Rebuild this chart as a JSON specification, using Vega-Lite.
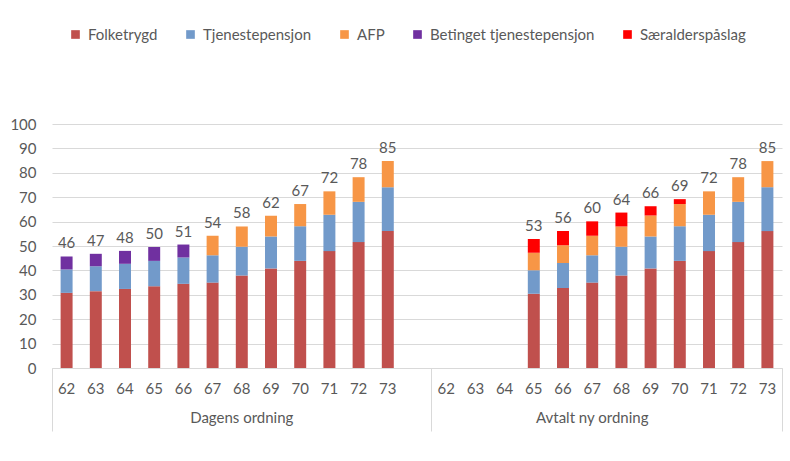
{
  "$schema": "https://vega.github.io/schema/vega-lite/v6.json",
  "width": 730,
  "height": 244,
  "autosize": "none",
  "padding": {"left": 52, "top": 124, "right": 8, "bottom": 93},
  "config": {"view": {"stroke": null}, "font": "Lato"},
  "data": {"values": [
    {"key": "1-62", "cat": "Folketrygd", "value": 30.8},
    {"key": "1-62", "cat": "Tjenestepensjon", "value": 9.6},
    {"key": "1-62", "cat": "Betinget tjenestepensjon", "value": 5.3},
    {"key": "1-63", "cat": "Folketrygd", "value": 31.5},
    {"key": "1-63", "cat": "Tjenestepensjon", "value": 10.2},
    {"key": "1-63", "cat": "Betinget tjenestepensjon", "value": 5.1},
    {"key": "1-64", "cat": "Folketrygd", "value": 32.4},
    {"key": "1-64", "cat": "Tjenestepensjon", "value": 10.3},
    {"key": "1-64", "cat": "Betinget tjenestepensjon", "value": 5.3},
    {"key": "1-65", "cat": "Folketrygd", "value": 33.5},
    {"key": "1-65", "cat": "Tjenestepensjon", "value": 10.4},
    {"key": "1-65", "cat": "Betinget tjenestepensjon", "value": 5.7},
    {"key": "1-66", "cat": "Folketrygd", "value": 34.5},
    {"key": "1-66", "cat": "Tjenestepensjon", "value": 10.8},
    {"key": "1-66", "cat": "Betinget tjenestepensjon", "value": 5.3},
    {"key": "1-67", "cat": "Folketrygd", "value": 35.0},
    {"key": "1-67", "cat": "Tjenestepensjon", "value": 11.2},
    {"key": "1-67", "cat": "AFP", "value": 8.0},
    {"key": "1-68", "cat": "Folketrygd", "value": 37.9},
    {"key": "1-68", "cat": "Tjenestepensjon", "value": 11.8},
    {"key": "1-68", "cat": "AFP", "value": 8.3},
    {"key": "1-69", "cat": "Folketrygd", "value": 40.8},
    {"key": "1-69", "cat": "Tjenestepensjon", "value": 13.1},
    {"key": "1-69", "cat": "AFP", "value": 8.5},
    {"key": "1-70", "cat": "Folketrygd", "value": 43.9},
    {"key": "1-70", "cat": "Tjenestepensjon", "value": 14.2},
    {"key": "1-70", "cat": "AFP", "value": 9.1},
    {"key": "1-71", "cat": "Folketrygd", "value": 47.9},
    {"key": "1-71", "cat": "Tjenestepensjon", "value": 14.9},
    {"key": "1-71", "cat": "AFP", "value": 9.6},
    {"key": "1-72", "cat": "Folketrygd", "value": 51.6},
    {"key": "1-72", "cat": "Tjenestepensjon", "value": 16.5},
    {"key": "1-72", "cat": "AFP", "value": 10.1},
    {"key": "1-73", "cat": "Folketrygd", "value": 56.1},
    {"key": "1-73", "cat": "Tjenestepensjon", "value": 18.0},
    {"key": "1-73", "cat": "AFP", "value": 10.7},
    {"key": "2-65", "cat": "Folketrygd", "value": 30.4},
    {"key": "2-65", "cat": "Tjenestepensjon", "value": 9.7},
    {"key": "2-65", "cat": "AFP", "value": 7.1},
    {"key": "2-65", "cat": "Særalderspåslag", "value": 5.7},
    {"key": "2-66", "cat": "Folketrygd", "value": 32.8},
    {"key": "2-66", "cat": "Tjenestepensjon", "value": 10.2},
    {"key": "2-66", "cat": "AFP", "value": 7.3},
    {"key": "2-66", "cat": "Særalderspåslag", "value": 5.8},
    {"key": "2-67", "cat": "Folketrygd", "value": 35.0},
    {"key": "2-67", "cat": "Tjenestepensjon", "value": 11.2},
    {"key": "2-67", "cat": "AFP", "value": 8.0},
    {"key": "2-67", "cat": "Særalderspåslag", "value": 5.9},
    {"key": "2-68", "cat": "Folketrygd", "value": 37.9},
    {"key": "2-68", "cat": "Tjenestepensjon", "value": 11.8},
    {"key": "2-68", "cat": "AFP", "value": 8.3},
    {"key": "2-68", "cat": "Særalderspåslag", "value": 5.7},
    {"key": "2-69", "cat": "Folketrygd", "value": 40.8},
    {"key": "2-69", "cat": "Tjenestepensjon", "value": 13.1},
    {"key": "2-69", "cat": "AFP", "value": 8.6},
    {"key": "2-69", "cat": "Særalderspåslag", "value": 3.8},
    {"key": "2-70", "cat": "Folketrygd", "value": 43.9},
    {"key": "2-70", "cat": "Tjenestepensjon", "value": 14.2},
    {"key": "2-70", "cat": "AFP", "value": 9.1},
    {"key": "2-70", "cat": "Særalderspåslag", "value": 2.0},
    {"key": "2-71", "cat": "Folketrygd", "value": 47.9},
    {"key": "2-71", "cat": "Tjenestepensjon", "value": 14.9},
    {"key": "2-71", "cat": "AFP", "value": 9.6},
    {"key": "2-72", "cat": "Folketrygd", "value": 51.6},
    {"key": "2-72", "cat": "Tjenestepensjon", "value": 16.5},
    {"key": "2-72", "cat": "AFP", "value": 10.1},
    {"key": "2-73", "cat": "Folketrygd", "value": 56.1},
    {"key": "2-73", "cat": "Tjenestepensjon", "value": 18.0},
    {"key": "2-73", "cat": "AFP", "value": 10.7}
  ]},
  "resolve": {"axis": {"x": "independent", "y": "independent"}},
  "layer": [
    {
      "transform": [
        {"calculate": "indexof(['Folketrygd', 'Tjenestepensjon', 'AFP', 'Betinget tjenestepensjon', 'Særalderspåslag'], datum.cat)", "as": "stackOrder"}
      ],
      "mark": {"type": "bar", "width": {"band": 0.41}},
      "encoding": {
        "x": {
          "field": "key", "type": "nominal",
          "scale": {"domain": ["1-62","1-63","1-64","1-65","1-66","1-67","1-68","1-69","1-70","1-71","1-72","1-73","1-","2-62","2-63","2-64","2-65","2-66","2-67","2-68","2-69","2-70","2-71","2-72","2-73"], "paddingInner": 0, "paddingOuter": 0},
          "axis": {"title": null, "orient": "bottom", "labelExpr": "slice(datum.label, 2)", "labelAngle": 0, "ticks": false, "domainColor": "#d9d9d9", "labelPadding": 13, "labelFontSize": 15, "labelColor": "#595959"}
        },
        "y": {
          "field": "value", "type": "quantitative", "stack": "zero",
          "scale": {"domain": [0, 100], "nice": false},
          "axis": {"title": null, "orient": "left", "values": [0,10,20,30,40,50,60,70,80,90,100], "labelOverlap": false, "domain": false, "ticks": false, "gridColor": "#d9d9d9", "labelPadding": 16, "labelFontSize": 15, "labelColor": "#595959"}
        },
        "order": {"field": "stackOrder", "type": "quantitative", "sort": "ascending"},
        "color": {
          "field": "cat", "type": "nominal",
          "sort": ["Folketrygd", "Tjenestepensjon", "AFP", "Betinget tjenestepensjon", "Særalderspåslag"],
          "scale": {
            "domain": ["Folketrygd", "Tjenestepensjon", "AFP", "Betinget tjenestepensjon", "Særalderspåslag"],
            "range": ["#C0504D", "#729ACA", "#F79646", "#7030A0", "#FF0000"]
          },
          "legend": {"title": null, "orient": "none", "direction": "horizontal", "gridAlign": "none", "legendX": 16, "legendY": -97, "symbolType": "square", "symbolSize": 75, "symbolStrokeWidth": 0, "labelFontSize": 15, "labelColor": "#595959", "columnPadding": 25, "labelOffset": 5, "labelLimit": 300}
        }
      }
    },
    {
      "mark": {"type": "text", "baseline": "bottom", "dy": -5, "fontSize": 15, "color": "#595959"},
      "encoding": {
        "x": {"field": "key", "type": "nominal", "axis": null, "scale": {"domain": ["1-62","1-63","1-64","1-65","1-66","1-67","1-68","1-69","1-70","1-71","1-72","1-73","1-","2-62","2-63","2-64","2-65","2-66","2-67","2-68","2-69","2-70","2-71","2-72","2-73"], "paddingInner": 0, "paddingOuter": 0}},
        "y": {"aggregate": "sum", "field": "value", "type": "quantitative", "scale": {"domain": [0, 100], "nice": false}, "axis": null},
        "text": {"aggregate": "sum", "field": "value", "type": "quantitative", "format": ".0f"}
      }
    },
    {
      "mark": {"type": "rule", "opacity": 0},
      "encoding": {
        "x": {"field": "key", "type": "nominal", "scale": {"domain": ["1-62","1-63","1-64","1-65","1-66","1-67","1-68","1-69","1-70","1-71","1-72","1-73","1-","2-62","2-63","2-64","2-65","2-66","2-67","2-68","2-69","2-70","2-71","2-72","2-73"], "paddingInner": 0, "paddingOuter": 0},
          "axis": {"title": null, "orient": "bottom", "values": ["1-62", "2-62"], "bandPosition": 0, "labels": false, "domain": false, "tickSize": 63, "tickColor": "#d9d9d9"}}
      }
    },
    {
      "mark": {"type": "rule", "opacity": 0},
      "encoding": {
        "x": {"field": "key", "type": "nominal", "scale": {"domain": ["1-62","1-63","1-64","1-65","1-66","1-67","1-68","1-69","1-70","1-71","1-72","1-73","1-","2-62","2-63","2-64","2-65","2-66","2-67","2-68","2-69","2-70","2-71","2-72","2-73"], "paddingInner": 0, "paddingOuter": 0},
          "axis": {"title": null, "orient": "bottom", "values": ["2-73"], "bandPosition": 1, "labels": false, "domain": false, "tickSize": 63, "tickColor": "#d9d9d9"}}
      }
    },
    {
      "mark": {"type": "rule", "opacity": 0},
      "encoding": {
        "x": {"field": "key", "type": "nominal", "scale": {"domain": ["1-62","1-63","1-64","1-65","1-66","1-67","1-68","1-69","1-70","1-71","1-72","1-73","1-","2-62","2-63","2-64","2-65","2-66","2-67","2-68","2-69","2-70","2-71","2-72","2-73"], "paddingInner": 0, "paddingOuter": 0},
          "axis": {"title": null, "orient": "bottom", "values": ["1-68"], "labelExpr": "'Dagens ordning'", "labelAngle": 0, "ticks": false, "domain": false, "labelPadding": 42, "labelFontSize": 15, "labelColor": "#595959"}}
      }
    },
    {
      "mark": {"type": "rule", "opacity": 0},
      "encoding": {
        "x": {"field": "key", "type": "nominal", "scale": {"domain": ["1-62","1-63","1-64","1-65","1-66","1-67","1-68","1-69","1-70","1-71","1-72","1-73","1-","2-62","2-63","2-64","2-65","2-66","2-67","2-68","2-69","2-70","2-71","2-72","2-73"], "paddingInner": 0, "paddingOuter": 0},
          "axis": {"title": null, "orient": "bottom", "values": ["2-67"], "bandPosition": 1, "labelExpr": "'Avtalt ny ordning'", "labelAngle": 0, "ticks": false, "domain": false, "labelPadding": 42, "labelFontSize": 15, "labelColor": "#595959"}}
      }
    }
  ]
}
